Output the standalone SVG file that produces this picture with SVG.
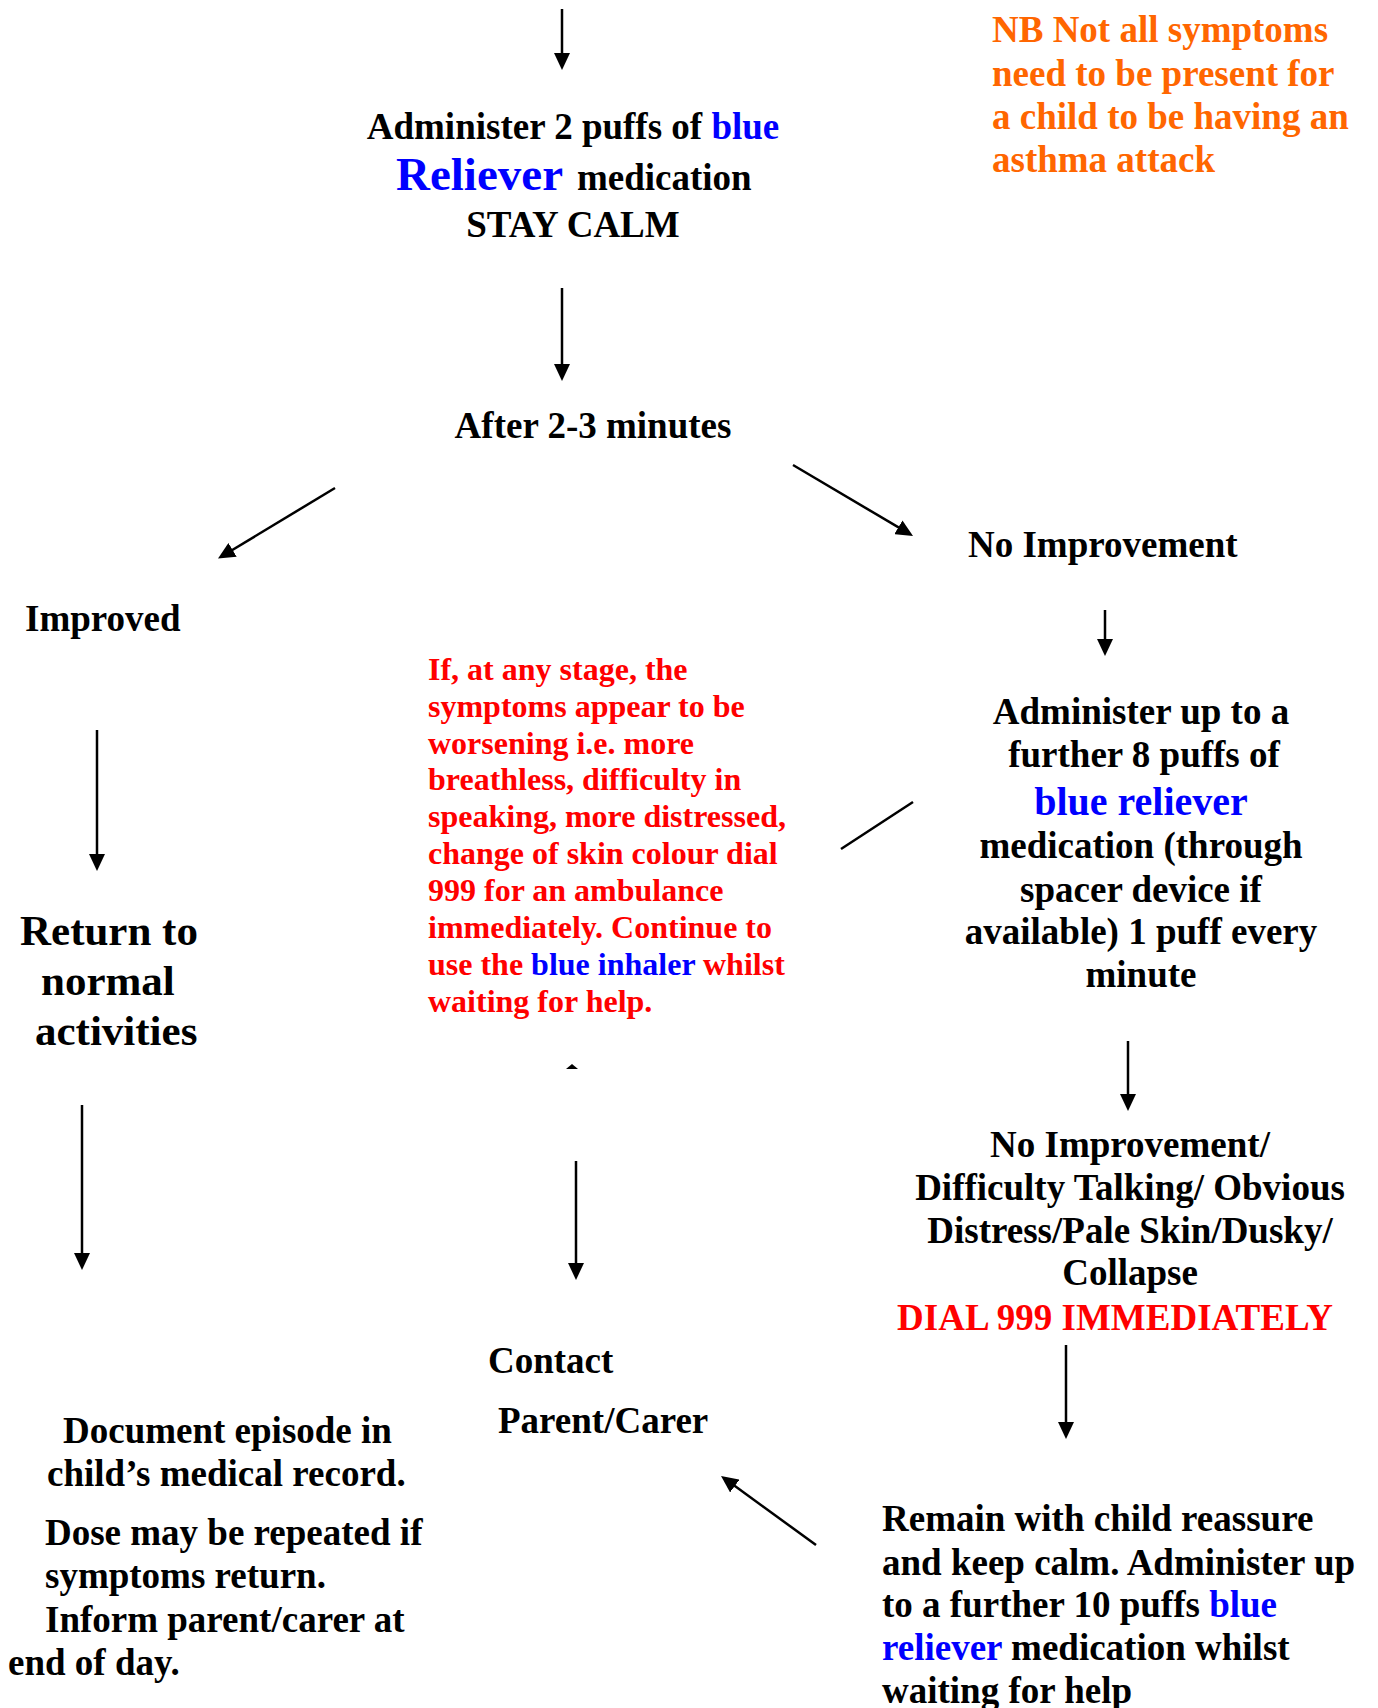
<svg xmlns="http://www.w3.org/2000/svg" width="1378" height="1708" viewBox="0 0 1378 1708">
<defs>
<marker id="ah" markerUnits="userSpaceOnUse" markerWidth="17" markerHeight="16" refX="10" refY="8" orient="auto"><path d="M0,0 L17,8 L0,16 z" fill="#000"/></marker>
</defs>
<style>
text{font-family:"Liberation Serif","Times New Roman",serif;font-weight:bold;font-size:37px;fill:#000}
.red{fill:#FF0000}
.blue{fill:#0000FF}
.orange{fill:#FF6600}
.c{text-anchor:middle}
.sm{font-size:32px}
#connectors line{stroke:#000;stroke-width:2.5;fill:none}
#connectors .a{marker-end:url(#ah)}
</style>
<rect width="1378" height="1708" fill="#fff"/>
<g id="connectors">
<line class="a" x1="562" y1="9" x2="562" y2="63"/>
<line class="a" x1="562" y1="288" x2="562" y2="374"/>
<line class="a" x1="335" y1="488" x2="224" y2="555"/>
<line class="a" x1="793" y1="465" x2="907" y2="532.4"/>
<line class="a" x1="97" y1="730" x2="97" y2="864"/>
<line class="a" x1="1105" y1="610" x2="1105" y2="649"/>
<line x1="913" y1="802" x2="841" y2="849"/>
<line class="a" x1="1128" y1="1041" x2="1128" y2="1104"/>
<line class="a" x1="82" y1="1105" x2="82" y2="1263"/>
<line class="a" x1="576" y1="1161" x2="576" y2="1273"/>
<line class="a" x1="1066" y1="1345" x2="1066" y2="1432"/>
<line class="a" x1="816" y1="1545" x2="726.7" y2="1480.1"/>
<polygon points="566,1069 572,1064 578,1069" fill="#000"/>
</g>
<g id="node-administer2">
<text class="c" x="573" y="139">Administer 2 puffs of <tspan class="blue">blue</tspan></text>
<text y="190"><tspan class="blue" x="396" style="font-size:47px">Reliever</tspan><tspan x="577">medication</tspan></text>
<text class="c" x="573" y="237">STAY CALM</text>
</g>
<g id="node-nb">
<text class="orange" x="992" y="42">NB Not all symptoms</text>
<text class="orange" x="992" y="86">need to be present for</text>
<text class="orange" x="992" y="129">a child to be having an</text>
<text class="orange" x="992" y="172">asthma attack</text>
</g>
<g id="node-after">
<text class="c" x="593" y="438">After 2-3 minutes</text>
</g>
<g id="node-improved">
<text x="25" y="631">Improved</text>
</g>
<g id="node-noimprovement">
<text x="968" y="557">No Improvement</text>
</g>
<g id="node-worsening">
<text class="red sm" x="428" y="680">If, at any stage, the</text>
<text class="red sm" x="428" y="717">symptoms appear to be</text>
<text class="red sm" x="428" y="754">worsening i.e. more</text>
<text class="red sm" x="428" y="790">breathless, difficulty in</text>
<text class="red sm" x="428" y="827">speaking, more distressed,</text>
<text class="red sm" x="428" y="864">change of skin colour dial</text>
<text class="red sm" x="428" y="901">999 for an ambulance</text>
<text class="red sm" x="428" y="938">immediately. Continue to</text>
<text class="red sm" x="428" y="975">use the <tspan class="blue">blue inhaler</tspan> whilst</text>
<text class="red sm" x="428" y="1012">waiting for help.</text>
</g>
<g id="node-administer8">
<text class="c" x="1141" y="724">Administer up to a</text>
<text class="c" x="1144" y="767">further 8 puffs of</text>
<text class="c blue" x="1141" y="815" style="font-size:40px">blue reliever</text>
<text class="c" x="1141" y="858">medication (through</text>
<text class="c" x="1141" y="902">spacer device if</text>
<text class="c" x="1141" y="944">available) 1 puff every</text>
<text class="c" x="1141" y="987">minute</text>
</g>
<g id="node-return">
<text x="20" y="945" style="font-size:43px">Return to</text>
<text x="41" y="995" style="font-size:43px">normal</text>
<text x="35" y="1045" style="font-size:43px">activities</text>
</g>
<g id="node-dial">
<text class="c" x="1130" y="1157">No Improvement/</text>
<text class="c" x="1130" y="1200">Difficulty Talking/ Obvious</text>
<text class="c" x="1130" y="1243">Distress/Pale Skin/Dusky/</text>
<text class="c" x="1130" y="1285">Collapse</text>
<text class="c red" x="1115" y="1330">DIAL 999 IMMEDIATELY</text>
</g>
<g id="node-contact">
<text x="488" y="1373">Contact</text>
<text x="498" y="1433">Parent/Carer</text>
</g>
<g id="node-document">
<text x="63" y="1443">Document episode in</text>
<text x="47" y="1486">child’s medical record.</text>
<text x="45" y="1545">Dose may be repeated if</text>
<text x="45" y="1588">symptoms return.</text>
<text x="45" y="1632">Inform parent/carer at</text>
<text x="8" y="1675">end of day.</text>
</g>
<g id="node-remain">
<text x="882" y="1531">Remain with child reassure</text>
<text x="882" y="1575">and keep calm. Administer up</text>
<text x="882" y="1617">to a further 10 puffs <tspan class="blue">blue</tspan></text>
<text x="882" y="1660"><tspan class="blue">reliever</tspan> medication whilst</text>
<text x="882" y="1703">waiting for help</text>
</g>
</svg>
